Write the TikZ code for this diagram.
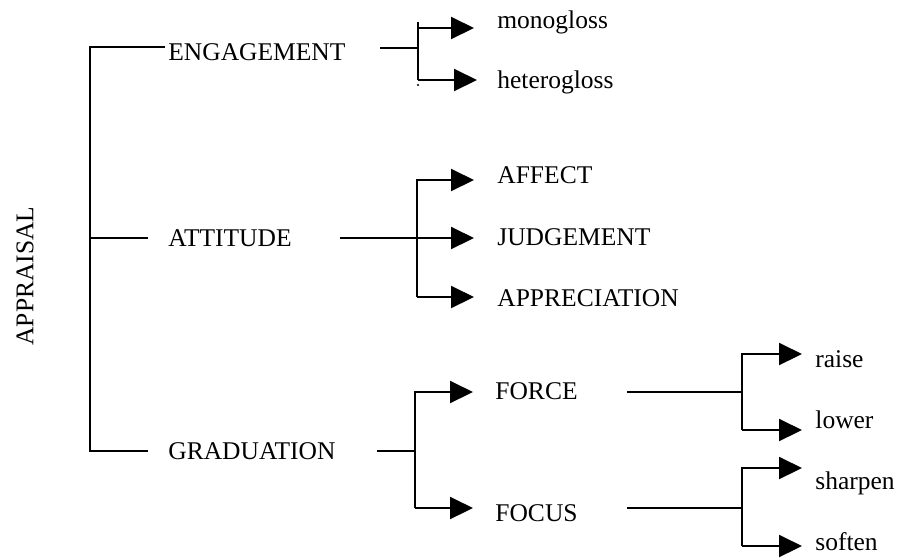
\documentclass[tikz,border=0pt]{standalone}
\usepackage{fontspec}
\setmainfont{Liberation Serif}
\usetikzlibrary{arrows.meta, calc}

\begin{document}
\begin{tikzpicture}[x=0.5pt, y=-0.5pt,
    lbl/.style={anchor=base west, inner sep=0pt, font=\fontsize{12.75}{15}\selectfont},
    link/.style={line width=1pt},
    arr/.style={link, -{Triangle[length=11.5pt, width=11pt]}}]
  \useasboundingbox (0,0) rectangle (903,559);

  % root label
  \node[lbl, anchor=center, rotate=90] (appraisal) at (25,276) {APPRAISAL};

  % first level
  \node[lbl] (engagement) at (168,60) {ENGAGEMENT};
  \node[lbl] (attitude) at (168,246) {ATTITUDE};
  \node[lbl] (graduation) at (168,459) {GRADUATION};

  % second level
  \node[lbl] (monogloss) at (497,28) {monogloss};
  \node[lbl] (heterogloss) at (497,88) {heterogloss};
  \node[lbl] (affect) at (497,183) {AFFECT};
  \node[lbl] (judgement) at (497,245) {JUDGEMENT};
  \node[lbl] (appreciation) at (497,306) {APPRECIATION};
  \node[lbl] (force) at (495,399) {FORCE};
  \node[lbl] (focus) at (495,521) {FOCUS};

  % third level
  \node[lbl] (raise) at (815,367) {raise};
  \node[lbl] (lower) at (815,428) {lower};
  \node[lbl] (sharpen) at (815,489) {sharpen};
  \node[lbl] (soften) at (815,550) {soften};

  % root bracket
  \coordinate (rootbar) at (90,0);
  \coordinate (eng-in) at (165,47);
  \coordinate (att-in) at (148,238);
  \coordinate (grad-in) at (148,451);
  \draw[link] (eng-in) -- (rootbar |- eng-in) -- (rootbar |- grad-in) -- (grad-in);
  \draw[link] (rootbar |- att-in) -- (att-in);

  % engagement
  \coordinate (eng-out) at (380,48);
  \coordinate (eng-bar) at (418,0);
  \coordinate (mono-in) at (474,28);
  \coordinate (hetero-in) at (477,80);
  \draw[link] (eng-out) -- (eng-bar |- eng-out);
  \draw[link] (eng-bar |- 0,22) -- (eng-bar |- hetero-in);
  \draw[arr] (eng-bar |- mono-in) -- (mono-in);
  \draw[arr] (eng-bar |- hetero-in) -- (hetero-in);
  \fill (eng-bar |- 0,85) circle (0.6pt);

  % attitude
  \coordinate (att-out) at (340,238);
  \coordinate (att-bar) at (417,0);
  \coordinate (affect-in) at (474,180);
  \coordinate (judge-in) at (474,238);
  \coordinate (apprec-in) at (474,297);
  \draw[arr] (att-out) -- (judge-in);
  \draw[arr] (att-bar |- apprec-in) |- (affect-in);
  \draw[arr] (att-bar |- apprec-in) -- (apprec-in);

  % graduation
  \coordinate (grad-out) at (377,451);
  \coordinate (grad-bar) at (415,0);
  \coordinate (force-in) at (473,392);
  \coordinate (focus-in) at (473,508);
  \draw[link] (grad-out) -- (grad-bar |- grad-out);
  \draw[arr] (grad-bar |- focus-in) |- (force-in);
  \draw[arr] (grad-bar |- focus-in) -- (focus-in);

  % force
  \coordinate (force-out) at (627,392);
  \coordinate (force-bar) at (742,0);
  \coordinate (raise-in) at (802,354);
  \coordinate (lower-in) at (802,430);
  \draw[link] (force-out) -- (force-bar |- force-out);
  \draw[arr] (force-bar |- lower-in) |- (raise-in);
  \draw[arr] (force-bar |- lower-in) -- (lower-in);

  % focus
  \coordinate (focus-out) at (627,508);
  \coordinate (focus-bar) at (742,0);
  \coordinate (sharpen-in) at (802,468);
  \coordinate (soften-in) at (802,546);
  \draw[link] (focus-out) -- (focus-bar |- focus-out);
  \draw[arr] (focus-bar |- soften-in) |- (sharpen-in);
  \draw[arr] (focus-bar |- soften-in) -- (soften-in);
\end{tikzpicture}
\end{document}
